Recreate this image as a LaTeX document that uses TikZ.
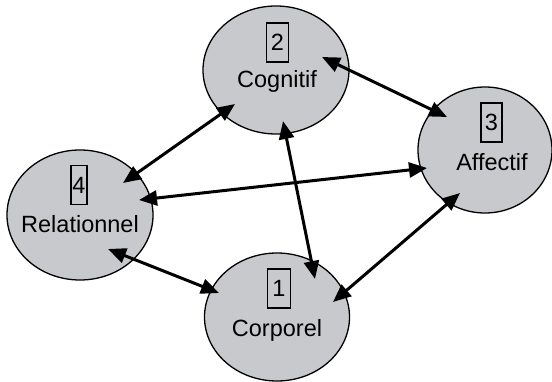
\documentclass[tikz,border=0pt]{standalone}
\usepackage{fontspec}
\setmainfont{Liberation Sans}
\usetikzlibrary{arrows.meta,shapes.geometric}
\definecolor{ellfill}{RGB}{200,201,204}
\tikzset{
  ell/.style={ellipse, draw=black, line width=1.3pt, fill=ellfill, inner sep=0pt},
  numbox/.style={draw=black, line width=1.2pt, minimum height=39pt, inner sep=0pt, font=\fontsize{23.5}{28}\selectfont},
  lab/.style={anchor=base, inner sep=0pt, font=\fontsize{23.5}{28}\selectfont},
  link/.style={line width=3pt, {Triangle[length=18pt,width=15pt]}-{Triangle[length=18pt,width=15pt]}},
}
\begin{document}
\begin{tikzpicture}[x=1pt,y=-1pt]
\useasboundingbox (0,0) rectangle (552,382);
% ellipses
\node[ell, minimum width=146pt, minimum height=128pt] (cog) at (276,70) {};
\node[ell, minimum width=134pt, minimum height=126pt] (aff) at (485,150) {};
\node[ell, minimum width=146pt, minimum height=130pt] (rel) at (80,215) {};
\node[ell, minimum width=145pt, minimum height=128pt] (cor) at (277,317) {};
% numbers and labels
\node[numbox, minimum width=22pt] (n2) at (277.5,42.5) {2};
\node[lab] (t2) at (277,88) {Cognitif};
\node[numbox, minimum width=21pt] (n3) at (491.5,122.5) {3};
\node[lab] (t3) at (492,171) {Affectif};
\node[numbox, minimum width=16pt] (n4) at (79,185) {4};
\node[lab] (t4) at (80,233) {Relationnel};
\node[numbox, minimum width=23pt] (n1) at (279,288.5) {1};
\node[lab] (t1) at (277,337) {Corporel};
% arrow end points
\coordinate (cogA) at (235,104);
\coordinate (relA) at (123,183);
\coordinate (cogB) at (322,57);
\coordinate (affB) at (447,117);
\coordinate (cogC) at (283,121);
\coordinate (corC) at (315,279);
\coordinate (relD) at (139,200);
\coordinate (affD) at (427,168);
\coordinate (relE) at (108,249);
\coordinate (corE) at (219,293);
\coordinate (affF) at (460,193);
\coordinate (corF) at (333,302);
% connectors
\draw[link] (cogA) -- (relA);
\draw[link] (cogB) -- (affB);
\draw[link] (cogC) -- (corC);
\draw[link] (relD) -- (affD);
\draw[link] (relE) -- (corE);
\draw[link] (affF) -- (corF);
\end{tikzpicture}
\end{document}
